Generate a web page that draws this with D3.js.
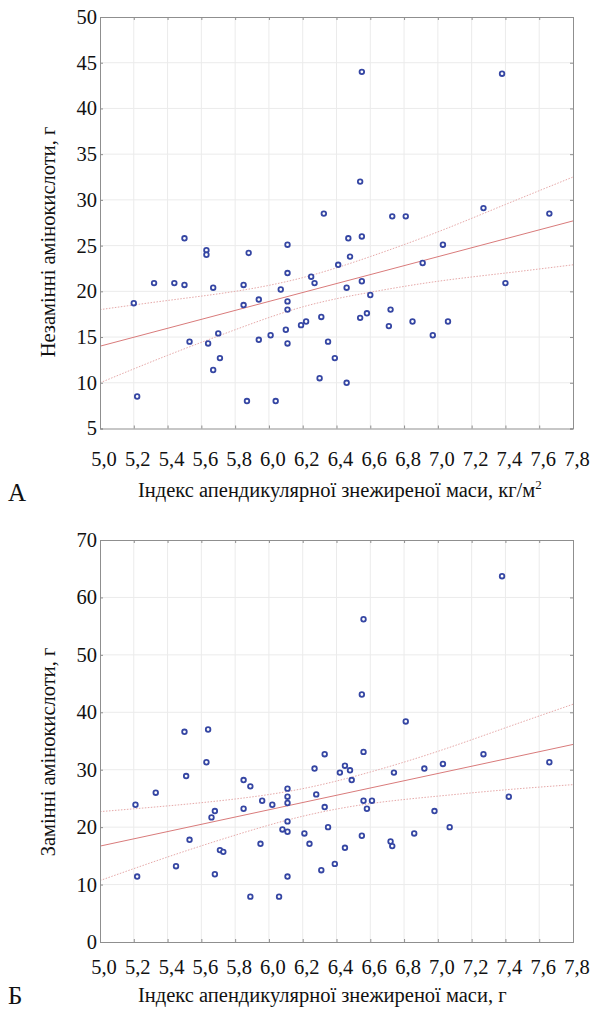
<!DOCTYPE html>
<html>
<head>
<meta charset="utf-8">
<script src="https://cdn.jsdelivr.net/npm/d3@7"></script>
<style>
  body { margin: 0; background: #fff; }
</style>
</head>
<body>
<div id="chart"></div>
<script>
// Tick labels (comma decimals, as in the original)
const xTicks = [5.0, 5.2, 5.4, 5.6, 5.8, 6.0, 6.2, 6.4, 6.6, 6.8, 7.0, 7.2, 7.4, 7.6, 7.8];
const yTicksA = [5, 10, 15, 20, 25, 30, 35, 40, 45, 50];
const yTicksB = [0, 10, 20, 30, 40, 50, 60, 70];

// Panel A: non-essential amino acids vs ALMI
const nonEssX = [6.55, 7.38, 6.54, 6.73, 6.81, 7.27, 7.66, 6.325,
  5.50, 6.11, 5.63, 5.63, 5.88, 6.41, 6.11, 6.25, 6.27, 5.32, 5.44, 5.50, 5.85, 5.67, 6.07,
  5.20, 5.94, 5.85, 6.11, 6.11, 6.31, 6.22, 6.19, 6.10, 6.01, 5.70, 5.53, 5.64, 5.94, 6.11,
  6.35, 5.71, 6.39, 5.67, 6.30, 5.22, 5.87, 6.04,
  6.47, 6.55, 7.03, 6.48, 6.91, 6.55, 6.46, 6.60, 6.72, 6.54, 6.58, 6.71, 6.85, 7.06, 6.97, 7.40, 6.46];
const nonEssY = [44.0, 43.8, 32.0, 28.2, 28.2, 29.1, 28.5, 28.5,
  25.8, 25.1, 24.5, 24.0, 24.2, 22.9, 22.0, 21.6, 20.9, 20.9, 20.9, 20.7, 20.7, 20.4, 20.2,
  18.7, 19.1, 18.5, 18.9, 18.0, 17.2, 16.7, 16.3, 15.8, 15.2, 15.4, 14.5, 14.3, 14.7, 14.3,
  14.5, 12.7, 12.7, 11.4, 10.5, 8.5, 8.0, 8.0,
  25.8, 26.0, 25.1, 23.8, 23.1, 21.1, 20.4, 19.6, 18.0, 17.1, 17.6, 16.2, 16.7, 16.7, 15.2, 20.9, 10.0];

// Panel B: essential amino acids vs ALMI
const essX = [5.50, 5.64, 7.38, 6.56, 6.55, 6.81,
  6.33, 5.63, 6.27, 6.42, 5.51, 5.85, 5.89, 6.11, 5.33, 6.11, 6.28, 5.96, 6.11, 6.02, 5.21,
  6.33, 5.85, 5.68, 5.66, 6.11, 6.35, 6.08, 6.11, 6.21, 5.53, 5.95, 6.24, 5.71, 5.73, 5.45,
  6.39, 6.31, 5.68, 5.22, 6.11, 5.89, 6.06,
  6.56, 7.27, 7.66, 7.03, 6.45, 6.92, 6.48, 6.74, 6.49, 6.56, 6.61, 6.58, 7.42, 6.98, 7.07,
  6.55, 6.86, 6.72, 6.73, 6.45];
const essY = [36.6, 37.0, 63.7, 56.2, 43.1, 38.4,
  32.7, 31.3, 30.2, 29.5, 28.9, 28.2, 27.1, 26.7, 26.0, 25.3, 25.7, 24.6, 24.2, 23.9, 23.9,
  23.5, 23.2, 22.8, 21.7, 21.0, 20.0, 19.6, 19.2, 18.9, 17.8, 17.1, 17.1, 16.0, 15.7, 13.2,
  13.6, 12.5, 11.8, 11.4, 11.4, 7.9, 7.9,
  33.1, 32.7, 31.3, 31.0, 30.7, 30.2, 29.9, 29.5, 28.2, 24.6, 24.6, 23.2, 25.3, 22.8, 20.0,
  18.5, 18.9, 17.5, 16.7, 16.4];

// Regression lines and 95% bands
const fitX = [5.0, 7.8];
const nonEssFit = [14.0, 27.7];
const essFit = [16.7, 34.4];
const bandX = [5.0, 5.4, 5.8, 6.2, 6.6, 7.0, 7.4, 7.8];
const nonEssUpper = [18.0, 19.0, 20.0, 21.5, 23.8, 26.5, 29.5, 32.5];
const nonEssLower = [10.0, 13.0, 15.8, 18.3, 19.9, 21.1, 22.0, 22.9];
const essUpper = [22.7, 23.7, 24.9, 26.7, 29.6, 33.2, 37.3, 41.4];
const essLower = [10.7, 14.8, 18.6, 21.9, 24.1, 25.4, 26.5, 27.4];

const W = 593, H = 1010;
const FONT = "'Liberation Serif', 'Times New Roman', Times, serif";
const svg = d3.select("#chart").append("svg")
  .attr("width", W)
  .attr("height", H)
  .attr("font-family", FONT);

const fmt = d => d.toFixed(1).replace(".", ",");

function drawPanel(opt) {
  const x = d3.scaleLinear().domain([5.0, 7.8]).range([100, 573]);
  const y = d3.scaleLinear().domain(opt.yDomain).range([opt.bottom, opt.top]);
  const g = svg.append("g");

  // grid
  g.selectAll(".vgrid").data(xTicks.slice(1, -1)).enter().append("line")
    .attr("x1", d => x(d)).attr("x2", d => x(d))
    .attr("y1", opt.top).attr("y2", opt.bottom)
    .attr("stroke", "#ebebeb").attr("stroke-width", 1);
  g.selectAll(".hgrid").data(opt.yTicks.slice(1, -1)).enter().append("line")
    .attr("x1", 100).attr("x2", 573)
    .attr("y1", d => y(d)).attr("y2", d => y(d))
    .attr("stroke", "#ebebeb").attr("stroke-width", 1);

  // confidence band and fit
  const band = d3.line().x((d, i) => x(bandX[i])).y(d => y(d)).curve(d3.curveNatural);
  [opt.upper, opt.lower].forEach(arr => {
    g.append("path").datum(arr)
      .attr("d", band)
      .attr("fill", "none")
      .attr("stroke", "#e6a9a9")
      .attr("stroke-width", 1)
      .attr("stroke-dasharray", "1.5,1.5");
  });
  g.append("path").datum(opt.fit)
    .attr("d", d3.line().x((d, i) => x(fitX[i])).y(d => y(d)))
    .attr("fill", "none")
    .attr("stroke", "#d97b7b")
    .attr("stroke-width", 1);

  // frame with inward ticks
  const axisColor = "#8f8f8f";
  g.append("g").attr("transform", `translate(0,${opt.bottom})`)
    .call(d3.axisTop(x).tickValues(xTicks).tickSize(3).tickFormat(""));
  g.append("g").attr("transform", `translate(0,${opt.top})`)
    .call(d3.axisBottom(x).tickValues(xTicks).tickSize(3).tickFormat(""));
  g.append("g").attr("transform", "translate(100,0)")
    .call(d3.axisRight(y).tickValues(opt.yTicks).tickSize(3).tickFormat(""));
  g.append("g").attr("transform", "translate(573,0)")
    .call(d3.axisLeft(y).tickValues(opt.yTicks).tickSize(3).tickFormat(""));
  g.selectAll(".domain, .tick line").attr("stroke", axisColor);

  // points
  g.selectAll("circle").data(opt.xs).enter().append("circle")
    .attr("cx", d => x(d))
    .attr("cy", (d, i) => y(opt.ys[i]))
    .attr("r", 2.3)
    .attr("fill", "#fff")
    .attr("stroke", "#3546a3")
    .attr("stroke-width", 1.8);

  // tick labels
  g.selectAll(".xl").data(xTicks).enter().append("text")
    .attr("x", d => x(d) + 4)
    .attr("y", opt.bottom + opt.xLabelDy)
    .attr("text-anchor", "middle")
    .attr("font-family", FONT)
    .attr("font-size", 20.5)
    .attr("fill", "#111")
    .text(fmt);
  g.selectAll(".yl").data(opt.yTicks).enter().append("text")
    .attr("x", 97)
    .attr("y", d => y(d))
    .attr("dy", "0.34em")
    .attr("text-anchor", "end")
    .attr("font-family", FONT)
    .attr("font-size", 20.5)
    .attr("fill", "#111")
    .text(d => d);

  // axis titles
  g.append("text")
    .attr("transform", `translate(55,${opt.yTitleY}) rotate(-90)`)
    .attr("text-anchor", "middle")
    .attr("font-family", FONT)
    .attr("font-size", 20.5)
    .attr("fill", "#111")
    .text(opt.yTitle);
  const xt = g.append("text")
    .attr("x", 138)
    .attr("y", opt.bottom + opt.xTitleDy)
    .attr("font-family", FONT)
    .attr("font-size", 20.5)
    .attr("fill", "#111")
    .text(opt.xTitle);
  if (opt.sup) {
    xt.append("tspan").attr("dy", -8).attr("font-size", 13).text(opt.sup);
  }
  g.append("text")
    .attr("x", 8)
    .attr("y", opt.bottom + opt.letterDy)
    .attr("font-family", FONT)
    .attr("font-size", 25)
    .attr("fill", "#111")
    .text(opt.letter);
}

drawPanel({
  top: 17, bottom: 428.5, yDomain: [5, 50], yTicks: yTicksA,
  xs: nonEssX, ys: nonEssY, fit: nonEssFit, upper: nonEssUpper, lower: nonEssLower,
  xLabelDy: 37, xTitleDy: 68, letterDy: 72, yTitleY: 242,
  yTitle: "Незамінні амінокислоти, г",
  xTitle: "Індекс апендикулярної знежиреної маси, кг/м", sup: "2", letter: "А"
});

drawPanel({
  top: 540, bottom: 942, yDomain: [0, 70], yTicks: yTicksB,
  xs: essX, ys: essY, fit: essFit, upper: essUpper, lower: essLower,
  xLabelDy: 32, xTitleDy: 60, letterDy: 62, yTitleY: 752,
  yTitle: "Замінні амінокислоти, г",
  xTitle: "Індекс апендикулярної знежиреної маси, г", sup: null, letter: "Б"
});
</script>
</body>
</html>
